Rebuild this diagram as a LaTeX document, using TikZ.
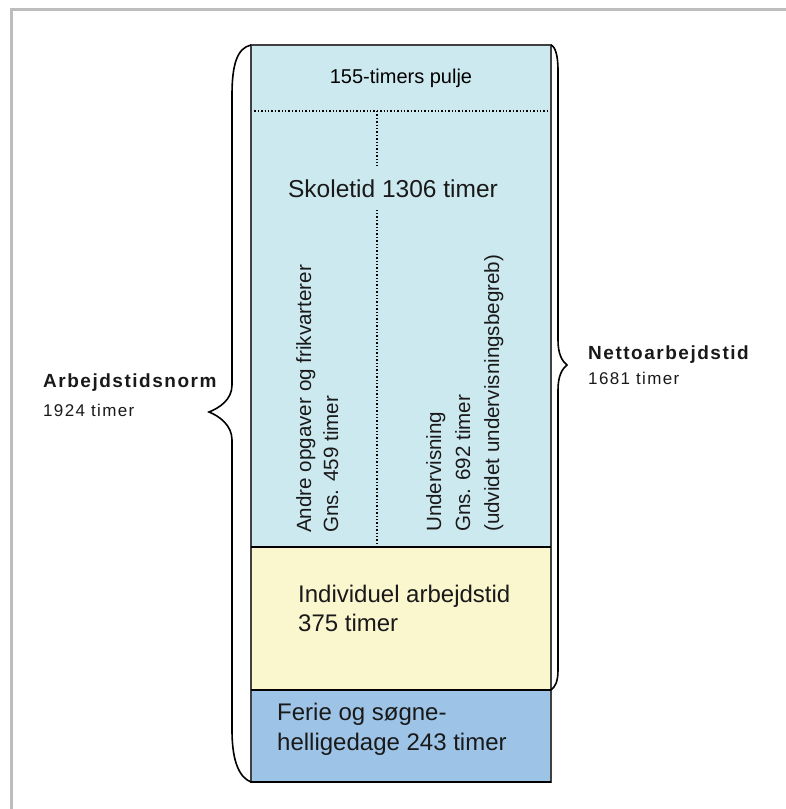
\documentclass[tikz,border=0pt]{standalone}
\usepackage{fontspec}
\setmainfont{Liberation Sans}
\newfontfamily\spreadfont[LetterSpace=8]{Liberation Sans}
\usetikzlibrary{positioning}

\definecolor{skolebla}{RGB}{205,233,240}
\definecolor{indivgul}{RGB}{250,247,206}
\definecolor{feriebla}{RGB}{157,195,230}
\definecolor{rammegra}{RGB}{189,189,189}
\definecolor{kantgra}{RGB}{64,64,64}

\tikzset{
  segment/.style={minimum width=300pt, inner sep=0pt, outer sep=0pt},
  brace/.style={line width=1.6pt, black},
  divider/.style={line width=1.4pt, dotted, black},
  tekst/.style={inner sep=0pt, text=black!90, align=left},
}

\begin{document}
\begin{tikzpicture}[x=1pt, y=-1pt]
\useasboundingbox (0,0) rectangle (786,809);
% ramme
\draw[rammegra, line width=3pt] (11,809) -- (11,9) -- (786,9);

% kassen
\node[segment, fill=skolebla, minimum height=66pt, font=\fontsize{20}{24}\selectfont] (pulje) at (401,78) {155-timers pulje};
\node[segment, fill=skolebla, minimum height=436pt, below=0pt of pulje] (skole) {};
\node[segment, fill=indivgul, minimum height=143pt, below=0pt of skole] (indiv) {};
\node[segment, fill=feriebla, minimum height=92pt, below=0pt of indiv] (ferie) {};

\coordinate (deling) at (377,0);
\draw[divider] (pulje.south west) -- (pulje.south east);
\draw[divider] (pulje.south -| deling) -- (skole.south -| deling);

\node[tekst, fill=skolebla, inner ysep=13pt, inner xsep=4pt, anchor=base, font=\fontsize{24.5}{29}\selectfont] (skoletid) at (393,197) {Skoletid 1306 timer};
\node[tekst, rotate=90, anchor=north west, font=\fontsize{20.6}{27}\selectfont] (andre) at (296,533) {Andre opgaver og frikvarterer\\Gns. 459 timer};
\node[tekst, rotate=90, anchor=north west, font=\fontsize{20.6}{29}\selectfont] (underv) at (426,532) {Undervisning\\Gns. 692 timer\\(udvidet undervisningsbegreb)};
\node[tekst, anchor=north west, font=\fontsize{24}{29}\selectfont] (indivtekst) at (298,584.5) {Individuel arbejdstid\\375 timer};
\node[tekst, anchor=north west, font=\fontsize{24}{30}\selectfont] (ferietekst) at (277,702.5) {Ferie og søgne-\\helligedage 243 timer};

\draw[kantgra, line width=2.5pt] (pulje.north west) rectangle (ferie.south east);
\draw[line width=2pt] (indiv.north west) -- (indiv.north east);
\draw[line width=2pt] (ferie.north west) -- (ferie.north east);
\draw[line width=2.5pt] (ferie.south west) -- (ferie.south east);

% klammer
\draw[brace] (pulje.north west) .. controls +(-14,3) and +(0,-30) .. (232,95) -- (232,385)
  .. controls +(0,15) and +(10,-4) .. (209,412) .. controls +(10,4) and +(0,-15) .. (232,440)
  -- (232,730) .. controls +(0,35) and +(-10,-4) .. (ferie.south west);
\draw[brace] (pulje.north east) .. controls +(5,2) and +(0,-12) .. (558,70) -- (558,340)
  .. controls +(0,14) and +(-5,-4) .. (567,365) .. controls +(-5,4) and +(0,-14) .. (558,390)
  -- (558,670) .. controls +(0,12) and +(4,-3) .. (indiv.south east);

\node[tekst, anchor=north west, font=\spreadfont\bfseries\fontsize{19}{29}\selectfont] (norm) at (43,374)
  {Arbejdstidsnorm\\{\mdseries\fontsize{17}{29}\selectfont 1924 timer}};
\node[tekst, anchor=north west, font=\spreadfont\bfseries\fontsize{19}{25}\selectfont] (netto) at (588,346)
  {Nettoarbejdstid\\{\mdseries\fontsize{17}{25}\selectfont 1681 timer}};
\end{tikzpicture}
\end{document}
